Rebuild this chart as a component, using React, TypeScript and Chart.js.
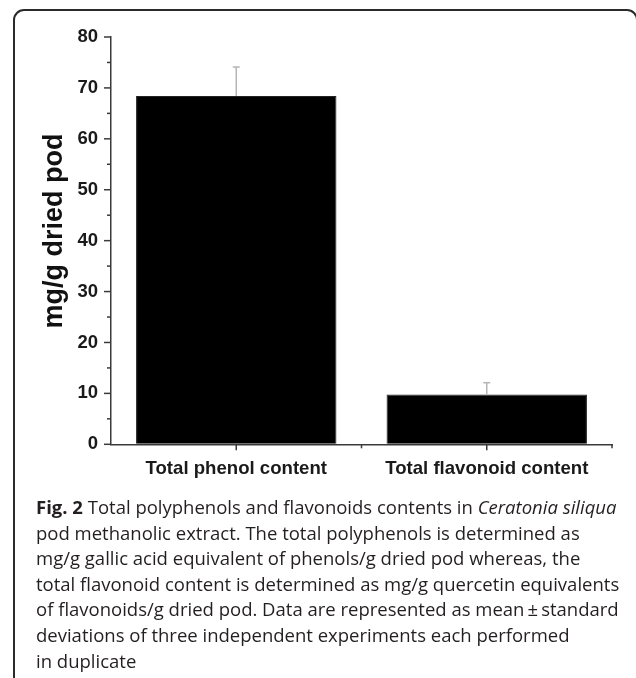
import React, { useEffect, useRef } from "react";
import { Chart, registerables } from "chart.js";

Chart.register(...registerables);

const categories = ["Total phenol content", "Total flavonoid content"];
const means = [68.4, 9.8];
const sds = [5.7, 2.3];
const yMin = 0;
const yMax = 80;
const yStep = 10;
const yMinorStep = 5;
const yTitle = "mg/g dried pod";

const captionLines = [
  null,
  "pod methanolic extract. The total polyphenols is determined as",
  "mg/g gallic acid equivalent of phenols/g dried pod whereas, the",
  "total flavonoid content is determined as mg/g quercetin equivalents",
  "of flavonoids/g dried pod. Data are represented as mean\u2009\u00b1\u2009standard",
  "deviations of three independent experiments each performed",
  "in duplicate",
];

const AXIS_COLOR = "#3a3a3a";
const FONT = "'Liberation Sans', Arial, Helvetica, sans-serif";

const decorPlugin = {
  id: "decor",
  afterDatasetsDraw(chart: any) {
    const ctx = chart.ctx;
    const x = chart.scales.x;
    const y = chart.scales.y;
    const meta = chart.getDatasetMeta(0);
    const line = (x1: number, y1: number, x2: number, y2: number) => {
      ctx.beginPath();
      ctx.moveTo(x1, y1);
      ctx.lineTo(x2, y2);
      ctx.stroke();
    };
    ctx.save();
    // error bars (upper only)
    ctx.strokeStyle = "#b5b5b5";
    ctx.lineWidth = 1.5;
    meta.data.forEach((bar: any, i: number) => {
      const base = y.getPixelForValue(means[i]);
      const top = y.getPixelForValue(means[i] + sds[i]);
      line(bar.x, base, bar.x, top);
      line(bar.x - 3.5, top, bar.x + 3.5, top);
    });
    // y ticks (major + minor)
    ctx.strokeStyle = AXIS_COLOR;
    ctx.lineWidth = 1.5;
    for (let v = yMin; v <= yMax; v += yMinorStep) {
      const py = y.getPixelForValue(v);
      const len = v % yStep === 0 ? 7 : 4;
      line(y.right - len, py, y.right, py);
    }
    // x ticks
    categories.forEach((_, i) => {
      const px = x.getPixelForValue(i);
      line(px, x.top, px, x.top + 6);
    });
    [0.5, 1.5].forEach((v) => {
      const px = x.getPixelForValue(v);
      line(px, x.top, px, x.top + 4);
    });
    // y title
    ctx.fillStyle = "#111";
    ctx.font = `bold 27px ${FONT}`;
    ctx.textAlign = "center";
    ctx.textBaseline = "middle";
    ctx.translate(55, 231);
    ctx.rotate(-Math.PI / 2);
    ctx.fillText(yTitle, 0, 0);
    ctx.restore();
  },
};

export default function App() {
  const canvasRef = useRef<HTMLCanvasElement | null>(null);

  useEffect(() => {
    if (!canvasRef.current) return;
    const chart = new Chart(canvasRef.current, {
      type: "bar",
      data: {
        labels: categories,
        datasets: [
          {
            data: means,
            backgroundColor: "#000",
            borderColor: "#222",
            borderWidth: 1,
            barPercentage: 0.8,
            categoryPercentage: 1.0,
          },
        ],
      },
      options: {
        animation: false,
        responsive: false,
        maintainAspectRatio: false,
        devicePixelRatio: 1,
        layout: { padding: { left: 0, top: 37, right: 24, bottom: 0 } },
        plugins: {
          legend: { display: false },
          tooltip: { enabled: false },
          title: { display: false },
        },
        scales: {
          x: {
            type: "category",
            offset: true,
            grid: { display: true, drawOnChartArea: false, drawTicks: false },
            border: { display: true, color: AXIS_COLOR, width: 1.5 },
            ticks: {
              color: "#1a1a1a",
              font: { family: FONT, weight: "bold", size: 18.6 },
              padding: 13,
              maxRotation: 0,
              autoSkip: false,
            },
            afterFit: (s: any) => {
              s.height = 55.7;
            },
          },
          y: {
            min: yMin,
            max: yMax,
            grid: { display: true, drawOnChartArea: false, drawTicks: false },
            border: { display: true, color: AXIS_COLOR, width: 1.5 },
            ticks: {
              stepSize: yStep,
              color: "#1a1a1a",
              font: { family: FONT, weight: "bold", size: 18.5 },
              padding: 13,
            },
            afterFit: (s: any) => {
              s.width = 111;
            },
          },
        },
      },
      plugins: [decorPlugin],
    });
    return () => chart.destroy();
  }, []);

  return (
    <div
      style={{
        position: "absolute",
        left: 0,
        top: 0,
        width: 636,
        height: 678,
        overflow: "hidden",
        background: "#fff",
      }}
    >
      <div
        style={{
          position: "absolute",
          left: 13,
          top: 9,
          width: 625,
          height: 720,
          border: "2px solid #2a2a2a",
          borderRadius: 11,
          boxSizing: "border-box",
        }}
      />
      <canvas
        ref={canvasRef}
        width={636}
        height={500}
        style={{ position: "absolute", left: 0, top: 0, width: 636, height: 500 }}
      />
      <div
        style={{
          position: "absolute",
          left: 36,
          top: 494,
          width: 600,
          fontFamily: "'Open Sans', 'Noto Sans', sans-serif",
          fontSize: 18.5,
          lineHeight: "25.6px",
          color: "#231f20",
          whiteSpace: "nowrap",
        }}
      >
        <div>
          <b>Fig. 2</b> Total polyphenols and flavonoids contents in <i>Ceratonia siliqua</i>
        </div>
        {captionLines.slice(1).map((l, i) => (
          <div key={i}>{l}</div>
        ))}
      </div>
    </div>
  );
}
